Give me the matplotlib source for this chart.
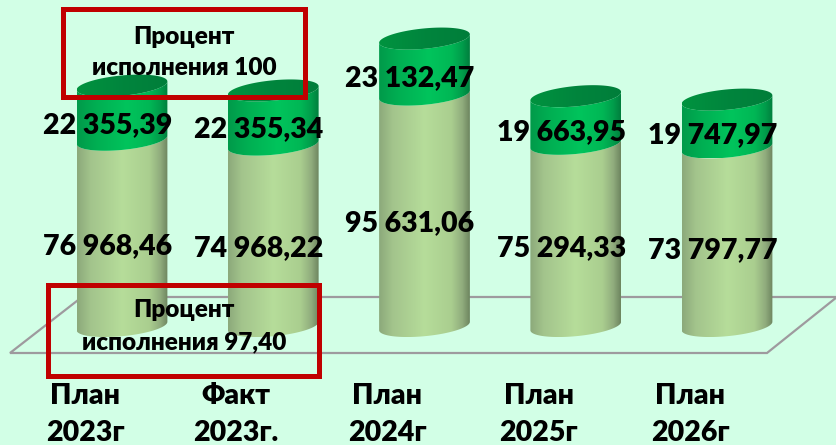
import matplotlib
matplotlib.use("Agg")
import matplotlib.pyplot as plt
import numpy as np
from matplotlib.colors import LinearSegmentedColormap
from matplotlib.patches import Polygon, Rectangle

# ----------------------------
# Data
# ----------------------------
periods = ["План\n2023г", "Факт\n2023г.", "План\n2024г", "План\n2025г", "План\n2026г"]
lower_values = [76968.46, 74968.22, 95631.06, 75294.33, 73797.77]
upper_values = [22355.39, 22355.34, 23132.47, 19663.95, 19747.97]
lower_labels = ["76 968,46", "74 968,22", "95 631,06", "75 294,33", "73 797,77"]
upper_labels = ["22 355,39", "22 355,34", "23 132,47", "19 663,95", "19 747,97"]
note_top = "Процент\nисполнения 100"
note_bottom = "Процент\nисполнения 97,40"

# ----------------------------
# Layout (pixels of the 837x445 picture)
# ----------------------------
W, H = 837, 445
BASE_PX = 326       # where value 0 sits
PX_PER_VALUE = 0.00242
FIRST_PX = 122
STEP_PX = 151.25
BAR_WIDTH = 0.6
BG = "#D2FFE6"
TEXT_FONT = ["Lato", "Open Sans"]


def px_x(px):
    return (px - FIRST_PX) / STEP_PX


def px_y(px):
    return (BASE_PX - px) / PX_PER_VALUE


fig = plt.figure(figsize=(W / 100, H / 100), dpi=100, facecolor=BG)
ax = fig.add_axes([0, 0, 1, 1])
ax.set_facecolor(BG)
ax.axis("off")

# floor
floor = [(px_x(x), px_y(y)) for x, y in [(10, 353), (82, 297), (837, 297), (767, 353)]]
ax.add_patch(Polygon(floor, closed=True, fill=False, edgecolor="#9E9A9E", lw=1.6, zorder=1))

lower_cmap = LinearSegmentedColormap.from_list(
    "lower",
    [(0, "#8CA97B"), (0.15, "#A3C48C"), (0.5, "#B6DD9A"), (0.8, "#AACE8F"), (0.92, "#90AC7D"), (1, "#6E8660")],
)
upper_cmap = LinearSegmentedColormap.from_list(
    "upper",
    [(0, "#009A4A"), (0.2, "#00AE52"), (0.55, "#00C45C"), (0.8, "#00B755"), (0.92, "#009C4B"), (1, "#007F3D")],
)
cap_cmap = LinearSegmentedColormap.from_list("cap", ["#00933F", "#00853D", "#007E3A"])
ramp = np.linspace(0, 1, 128).reshape(1, -1)

tilt = 4.2 / PX_PER_VALUE
depth = 10.2 / PX_PER_VALUE
half = BAR_WIDTH / 2
front = np.linspace(np.pi, 2 * np.pi, 60)
whole = np.linspace(0, 2 * np.pi, 120)


def arc(i, level, t):
    return np.column_stack([i + half * np.cos(t), level + tilt * np.cos(t) + depth * np.sin(t)])


def shade(verts, i, cmap, z):
    patch = Polygon(verts, closed=True, facecolor="none", edgecolor="none", zorder=z)
    ax.add_patch(patch)
    y0, y1 = verts[:, 1].min(), verts[:, 1].max()
    im = ax.imshow(ramp, cmap=cmap, extent=(i - half, i + half, y0, y1), aspect="auto",
                   zorder=z, interpolation="bilinear")
    im.set_clip_path(patch)


for i, (low, up) in enumerate(zip(lower_values, upper_values)):
    body_low = np.vstack([arc(i, 0, front), arc(i, low, front)[::-1]])
    body_up = np.vstack([arc(i, low, front), arc(i, low + up, front)[::-1]])
    shade(body_low, i, lower_cmap, 2)
    shade(body_up, i, upper_cmap, 3)
    shade(arc(i, low + up, whole), i, cap_cmap, 4)

    # value labels sit a bit below the middle of each segment
    lx = i - 14.5 / STEP_PX
    ax.text(lx, low / 2 - 13 / PX_PER_VALUE, lower_labels[i], ha="center", va="center",
            fontsize=20.5, fontweight="heavy", family=TEXT_FONT, color="black", zorder=8)
    ax.text(lx, low + up / 2 - 12 / PX_PER_VALUE, upper_labels[i], ha="center", va="center",
            fontsize=20.5, fontweight="heavy", family=TEXT_FONT, color="black", zorder=8)
    ax.text(i - 37 / STEP_PX, px_y(414.5), periods[i], ha="center", va="center", linespacing=1.55,
            fontsize=20.5, fontweight="heavy", family=TEXT_FONT, color="black", zorder=8)

# red frames with notes
for (x0, y0, x1, y1), note, cy in [
    ((62.5, 9, 304.5, 97), note_top, 52.5),
    ((47.5, 284.5, 319.5, 375.5), note_bottom, 326),
]:
    ax.add_patch(Rectangle((px_x(x0), px_y(y1)), px_x(x1) - px_x(x0), px_y(y0) - px_y(y1),
                           fill=False, edgecolor="#C00000", lw=3.6, zorder=6))
    ax.text(px_x(184), px_y(cy), note, ha="center", va="center", linespacing=1.55,
            fontsize=17.5, fontweight="heavy", family=TEXT_FONT, color="black", zorder=8)

ax.set_xlim(px_x(0), px_x(W))
ax.set_ylim(px_y(H), px_y(0))

plt.savefig("out.png", dpi=100, facecolor=BG)
